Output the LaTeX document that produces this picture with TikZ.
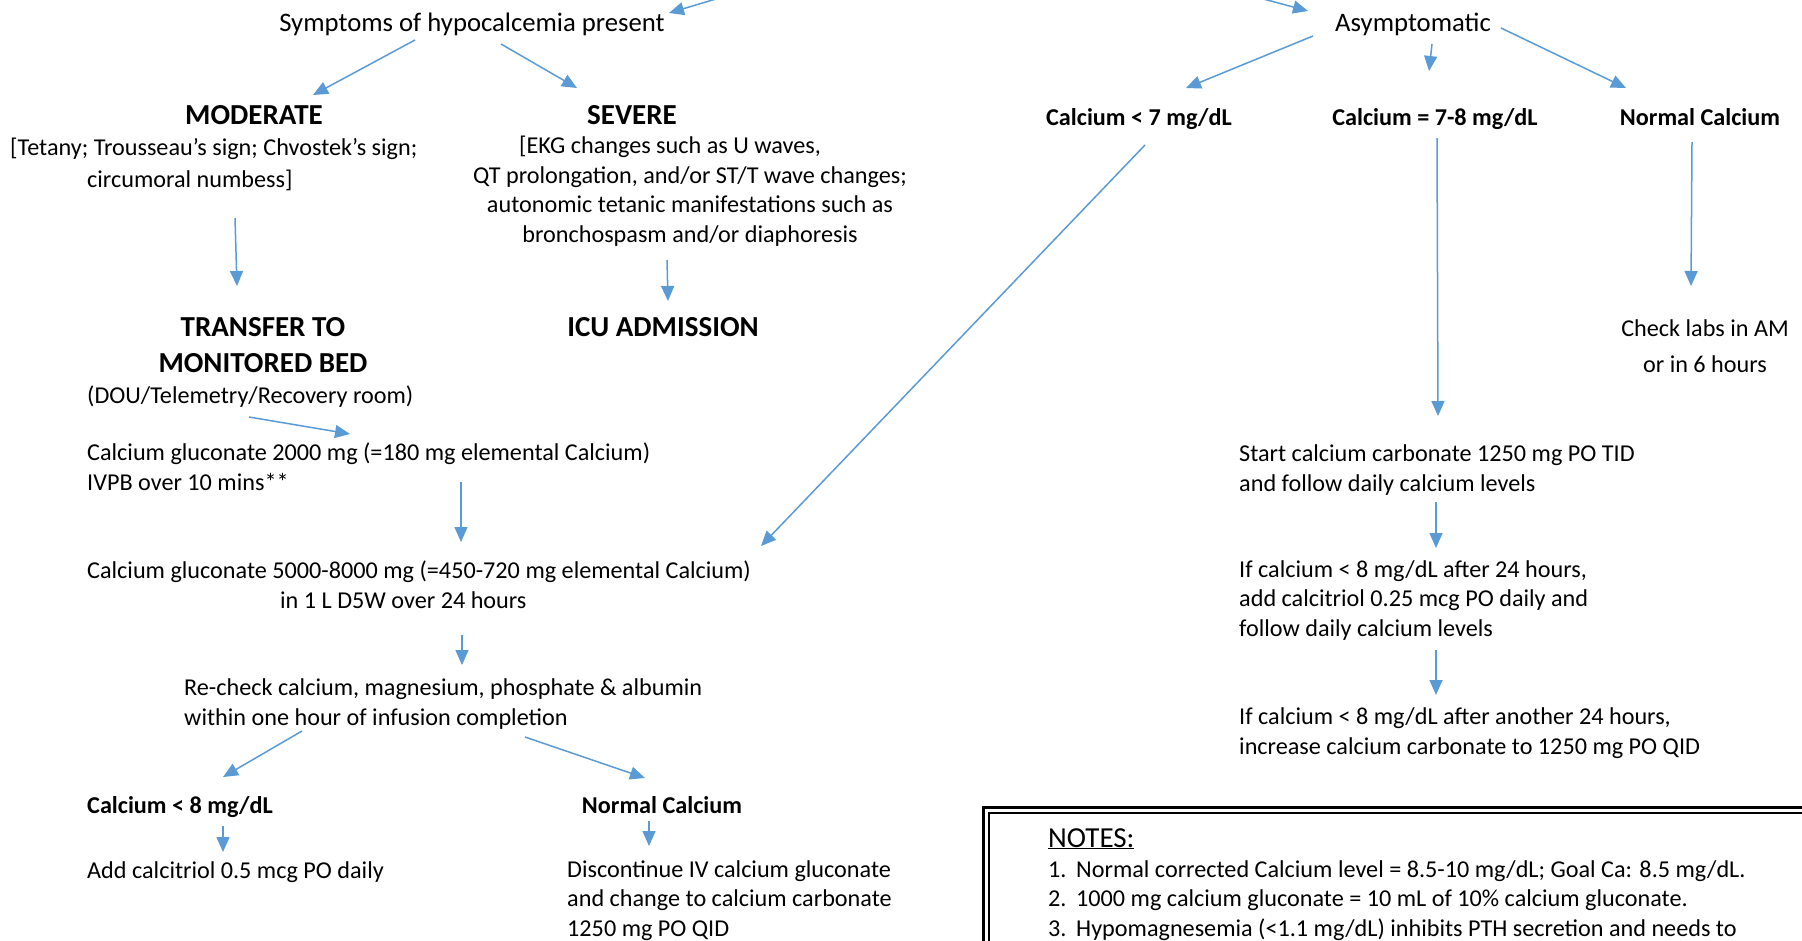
\documentclass[tikz,border=0pt]{standalone}
\usepackage{fontspec}
\setmainfont{Carlito}
\usetikzlibrary{arrows.meta,calc}
\definecolor{arrblue}{HTML}{5B9BD5}
\begin{document}
\begin{tikzpicture}[x=1pt,y=-1pt,
  body/.style={inner sep=0pt, font=\fontsize{24.2}{29.5}\selectfont},
  bodyl/.style={inner sep=0pt, font=\fontsize{26.7}{32}\selectfont},
  bodyb/.style={inner sep=0pt, font=\fontsize{24.2}{29.5}\selectfont\bfseries},
  head/.style={inner sep=0pt, font=\fontsize{29}{36}\selectfont\bfseries},
  arr/.style={draw=arrblue, line width=1.5pt, -{Triangle[length=15pt,width=13pt]}}]
\useasboundingbox (0,0) rectangle (1802,940);
\clip (0,0) rectangle (1802,940);
\fill[white] (0,0) rectangle (1802,940);

% (multi-line nodes are placed by the baseline of their last line)
% ---------- left branch ----------
\node[bodyl, anchor=base] (sym) at (472,31) {Symptoms of hypocalcemia present};
\node[head, anchor=base] (mod) at (254,124) {MODERATE};
\node[body, anchor=base west, align=left] (modtxt) at (10,187) {[Tetany; Trousseau’s sign; Chvostek’s sign;\\[2.5pt]\hspace*{77pt}circumoral numbess]};
\node[head, anchor=base] (sev) at (632,124) {SEVERE};
\node[body, anchor=base, align=center] (sevtxt) at (690,242) {[EKG changes such as U waves,\rule{40pt}{0pt}\\QT prolongation, and/or ST/T wave changes;\\autonomic tetanic manifestations such as\\bronchospasm and/or diaphoresis};
\node[head, anchor=base, align=center] (trans) at (263,372) {TRANSFER TO\\MONITORED BED};
\node[head, anchor=base] (icu) at (663,336) {ICU ADMISSION};
\node[body, anchor=base west] (dou) at (87,403) {(DOU/Telemetry/Recovery room)};
\node[body, anchor=base west, align=left] (cg1) at (87,490) {Calcium gluconate 2000 mg (=180 mg elemental Calcium)\\IVPB over 10 mins**};
\node[body, anchor=base west, align=left] (cg2) at (87,608) {Calcium gluconate 5000-8000 mg (=450-720 mg elemental Calcium)\\\hspace*{193pt}in 1 L D5W over 24 hours};
\node[body, anchor=base west, align=left] (rechk) at (184,725) {Re-check calcium, magnesium, phosphate \& albumin\\within one hour of infusion completion};
\node[bodyb, anchor=base west] (c8) at (87,813) {Calcium < 8 mg/dL};
\node[bodyb, anchor=base] (nc2) at (662,813) {Normal Calcium};
\node[body, anchor=base west] (addc) at (87,878) {Add calcitriol 0.5 mcg PO daily};
\node[body, anchor=base west, align=left] (disc) at (567,936) {Discontinue IV calcium gluconate\\and change to calcium carbonate\\1250 mg PO QID};

% ---------- right branch ----------
\node[bodyl, anchor=base] (asym) at (1413,31) {Asymptomatic};
\node[bodyb, anchor=base] (c7) at (1139,125) {Calcium < 7 mg/dL};
\node[bodyb, anchor=base] (c78) at (1435,125) {Calcium = 7-8 mg/dL};
\node[bodyb, anchor=base] (nc1) at (1700,125) {Normal Calcium};
\node[body, anchor=base, align=center] (check) at (1705,372) {Check labs in AM\\[6.5pt]or in 6 hours};
\node[body, anchor=base west, align=left] (start) at (1239,491) {Start calcium carbonate 1250 mg PO TID\\and follow daily calcium levels};
\node[body, anchor=base west, align=left] (if1) at (1239,636) {If calcium < 8 mg/dL after 24 hours,\\add calcitriol 0.25 mcg PO daily and\\follow daily calcium levels};
\node[body, anchor=base west, align=left] (if2) at (1239,754) {If calcium < 8 mg/dL after another 24 hours,\\increase calcium carbonate to 1250 mg PO QID};

% ---------- notes ----------
\draw[line width=3pt] (983,807) rectangle (1850,1000);
\draw[line width=1.5pt] (989,813) rectangle (1850,1000);
\node[inner sep=0pt, anchor=base west, font=\fontsize{29}{35}\selectfont] (notes) at (1048,847) {\underline{NOTES:}};
\node[body, anchor=base west, align=left] (nlist) at (1048,936) {\makebox[28pt][l]{1.}Normal corrected Calcium level = 8.5-10 mg/dL; Goal Ca: 8.5 mg/dL.\\\makebox[28pt][l]{2.}1000 mg calcium gluconate = 10 mL of 10\% calcium gluconate.\\\makebox[28pt][l]{3.}Hypomagnesemia (<1.1 mg/dL) inhibits PTH secretion and needs to};

% ---------- incoming arrows from above ----------
\coordinate (inL) at (746,-10);
\coordinate (inR) at (1230,-10);
\draw[arr] (inL) -- ($(sym.base)+(197,-18)$);
\draw[arr] (inR) -- ($(asym.base)+(-105,-20)$);

% ---------- left arrows ----------
\draw[arr] ($(sym.base)+(-57,9)$) -- ($(mod.base)+(59,-29)$);
\draw[arr] ($(sym.base)+(29,13)$) -- ($(sev.base)+(-55,-36)$);
\draw[arr] ($(modtxt.base west)+(225,31)$) -- ($(trans.base)+(-26,-86)$);
\draw[arr] ($(sevtxt.base)+(-23,18)$) -- ($(icu.base)+(5,-35)$);
\draw[arr] ($(dou.base west)+(162,14)$) -- ($(cg1.base west)+(263,-56)$);
\draw[arr] ($(cg1.base west)+(374,-8)$) -- ($(cg2.base west)+(374,-66)$);
\draw[arr] ($(cg2.base west)+(375,27)$) -- ($(rechk.base west)+(278,-60)$);
\draw[arr] ($(rechk.base west)+(118,6)$) -- ($(c8.base west)+(136,-36)$);
\draw[arr] ($(rechk.base west)+(341,12)$) -- ($(nc2.base)+(-17,-35)$);
\draw[arr] ($(c8.base west)+(136,13)$) -- ($(addc.base west)+(136,-26)$);
\draw[arr] ($(nc2.base)+(-13,8)$) -- ($(disc.base west)+(82,-90)$);

% ---------- right arrows ----------
\draw[arr] ($(asym.base)+(-100,5)$) -- ($(c7.base)+(47,-37)$);
\draw[arr] ($(asym.base)+(19,13)$) -- ($(c78.base)+(-6,-54)$);
\draw[arr] ($(asym.base)+(88,-3)$) -- ($(nc1.base)+(-74,-37)$);
\draw[arr] ($(c7.base)+(6,20)$) -- ($(cg2.base west)+(674,-62)$);
\draw[arr] ($(c78.base)+(2,13)$) -- ($(start.base west)+(199,-75)$);
\draw[arr] ($(nc1.base)+(-8,17)$) -- ($(check.base)+(-14,-86)$);
\draw[arr] ($(start.base west)+(197,11)$) -- ($(if1.base west)+(197,-88)$);
\draw[arr] ($(if1.base west)+(197,14)$) -- ($(if2.base west)+(197,-59)$);
\end{tikzpicture}
\end{document}
